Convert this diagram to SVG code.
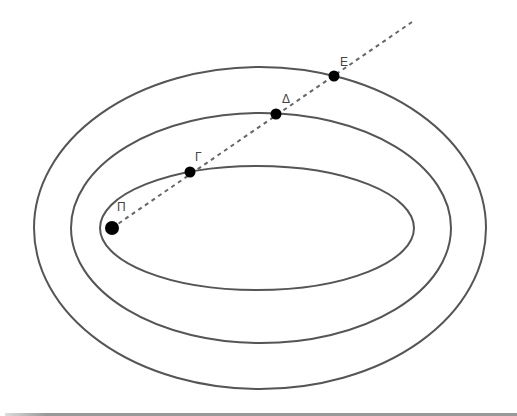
<svg xmlns="http://www.w3.org/2000/svg" width="517" height="416" viewBox="0 0 517 416">
<style>
.orbit{fill:none;stroke:#555;stroke-width:2}
.ray{fill:none;stroke:#666;stroke-width:2;stroke-dasharray:4 4}
.dot{fill:#000}
.lbl{font-family:"Liberation Sans",Arial,sans-serif;font-size:12px;fill:#444}
</style>
<defs>
<linearGradient id="fade" x1="0" x2="1" y1="0" y2="0">
<stop offset="0" stop-color="#ddd"/>
<stop offset="0.08" stop-color="#999"/>
<stop offset="1" stop-color="#999"/>
</linearGradient>
</defs>
<rect width="517" height="416" fill="#fff"/>
<g id="outer"><ellipse class="orbit" cx="260" cy="228" rx="226" ry="161"/></g>
<g id="middle"><ellipse class="orbit" cx="261" cy="228" rx="190" ry="115"/></g>
<g id="inner"><ellipse class="orbit" cx="257" cy="228" rx="157" ry="62"/></g>
<g id="connectors"><line class="ray" x1="112" y1="228" x2="412" y2="22"/></g>
<g id="P"><circle class="dot" cx="112" cy="228" r="7"/><text class="lbl" x="117" y="211">Π</text></g>
<g id="G"><circle class="dot" cx="190" cy="172" r="5.5"/><text class="lbl" x="195" y="161">Γ</text></g>
<g id="D"><circle class="dot" cx="276" cy="114" r="5.5"/><text class="lbl" x="282" y="103">Δ</text></g>
<g id="E"><circle class="dot" cx="334" cy="76" r="5.5"/><text class="lbl" x="340" y="66">Ε</text></g>
<rect x="5" y="413" width="512" height="3" fill="url(#fade)"/>
</svg>
